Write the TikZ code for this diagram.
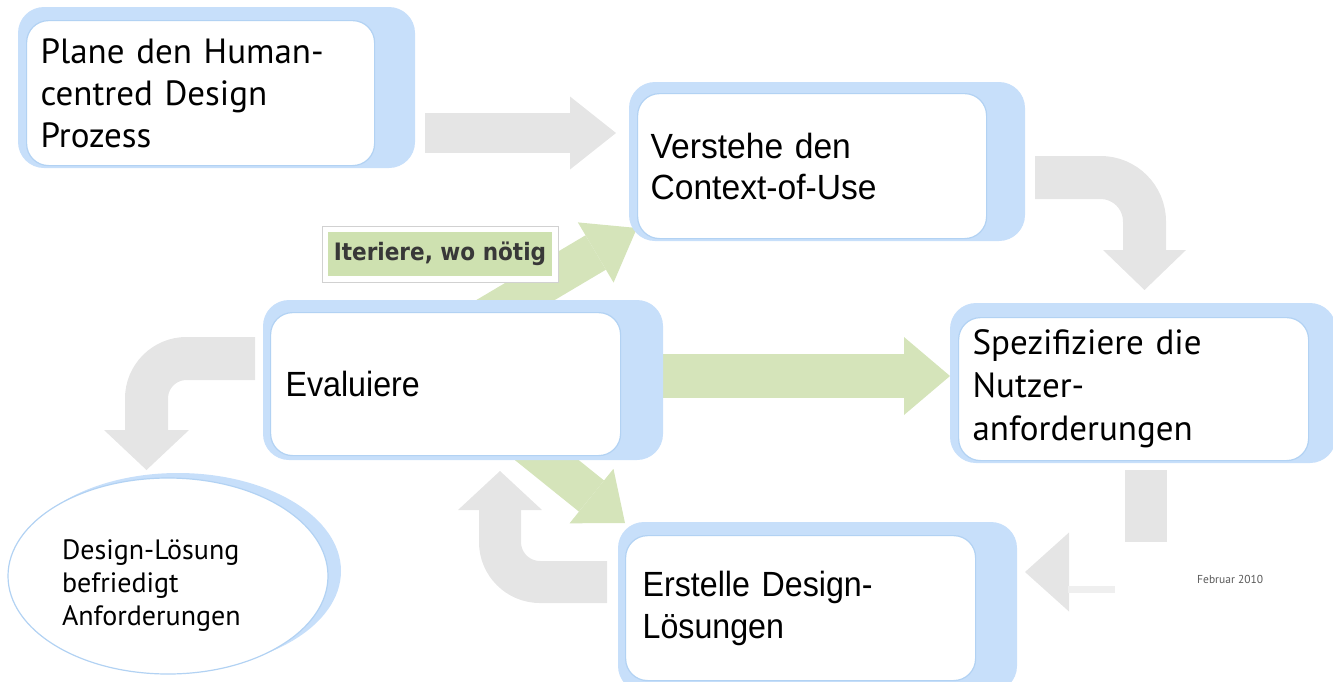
\documentclass[tikz,border=0pt]{standalone}
\usepackage{fontspec}
\setmainfont{PT Sans}
\newfontfamily\narrowA[FakeStretch=0.96]{Liberation Sans}
\newfontfamily\narrowB[FakeStretch=0.92]{Liberation Sans}
\newfontfamily\labelfont{DejaVu Sans Condensed}
\usetikzlibrary{arrows.meta,shapes.geometric}
\definecolor{shadowblue}{RGB}{199,223,250}
\definecolor{edgeblue}{RGB}{178,210,243}
\definecolor{arrowgray}{RGB}{229,229,229}
\definecolor{arrowgreen}{RGB}{213,228,186}
\definecolor{labelgreen}{RGB}{206,225,176}
\begin{document}
\begin{tikzpicture}[x=1pt,y=-1pt,
  shadowbox/.style={fill=shadowblue, rounded corners=26pt},
  wbox/.style={draw=edgeblue, line width=1.2pt, fill=white, rounded corners=22pt,
    inner ysep=0pt, align=left, anchor=north west},
  bigtext/.style={font=\fontsize{35}{42}\selectfont},
  graybar/.style={draw=arrowgray, line width=#1},
  greenbar/.style={draw=arrowgreen, line width=#1},
  bigtip/.style 2 args={-{Triangle[length=#1,width=#2,line width=0pt]}}
]
\useasboundingbox (0,0) rectangle (1333,681);

% ---------- connector end points ----------
\coordinate (a12s) at (425,133);   \coordinate (a12e) at (616,133);
\coordinate (a23s) at (1035,177.5); \coordinate (a23e) at (1144.5,290);
\coordinate (a35s) at (1146,470);  \coordinate (a35m) at (1146,542);
\coordinate (a35b) at (1069,572);  \coordinate (a35e) at (1025,572);
\coordinate (a54s) at (607,582);   \coordinate (a54e) at (500,471);
\coordinate (a4gs) at (255,358.5); \coordinate (a4ge) at (146.5,470);
\coordinate (g43s) at (660,376);   \coordinate (g43e) at (950,376);
\coordinate (g42s) at (465,330);   \coordinate (g42e) at (637,228);
\coordinate (g45s) at (497,420);   \coordinate (g45e) at (625,523);

% ---------- green iteration arrows ----------
\draw[greenbar=44pt, bigtip={46pt}{78pt}] (g43s) -- (g43e);
\draw[greenbar=40pt, bigtip={48pt}{70pt}] (g42s) -- (g42e);
\draw[greenbar=40pt, bigtip={43pt}{70pt}] (g45s) -- (g45e);

% ---------- gray process arrows ----------
\draw[graybar=40pt, bigtip={46pt}{73pt}] (a12s) -- (a12e);
\draw[graybar=43pt, rounded corners=44pt, bigtip={40pt}{83pt}] (a23s) -| (a23e);
\draw[graybar=42pt] (a35s) -- (a35m);
\draw[graybar=2pt, bigtip={44pt}{79pt}] (a35b) -- (a35e);
\fill[arrowgray!60] (1068,586) rectangle (1115,593);
\draw[graybar=42pt, rounded corners=40pt, bigtip={39pt}{84pt}] (a54s) -| (a54e);
\draw[graybar=43pt, rounded corners=40pt, bigtip={40pt}{85pt}] (a4gs) -| (a4ge);

% ---------- boxes ----------
\fill[shadowbox] (18,7) rectangle (415,168);
\node[wbox, bigtext, minimum width=348pt, minimum height=145pt, text width=320pt, inner xsep=14pt]
  (plan) at (26,20) {Plane den Human-\\centred Design\\Prozess};

\fill[shadowbox] (629,82) rectangle (1025,241);
\node[wbox, font=\narrowA\fontsize{35}{41}\selectfont, minimum width=349pt, minimum height=145pt, text width=323pt, inner xsep=13pt]
  (ctx) at (637,93) {Verstehe den\\Context-of-Use};

\fill[shadowbox] (950,303) rectangle (1336,463);
\node[wbox, font=\fontsize{35}{43}\selectfont, minimum width=350pt, minimum height=143pt, text width=322pt, inner xsep=14pt]
  (req) at (958,317) {Spezifiziere die\\Nutzer-\\anforderungen};

\fill[shadowbox] (263,300) rectangle (663,460);
\node[wbox, font=\narrowB\fontsize{35}{41}\selectfont, minimum width=350pt, minimum height=143pt, text width=320pt, inner xsep=15pt]
  (eval) at (270,312) {Evaluiere};

\fill[shadowbox] (618,522) rectangle (1017,692);
\node[wbox, font=\narrowB\fontsize{35}{42}\selectfont, minimum width=350pt, minimum height=145pt, text width=316pt, inner xsep=17pt]
  (design) at (625,535) {Erstelle Design-\\Lösungen};

% ---------- goal ellipse ----------
\fill[shadowblue] (178,571) ellipse [x radius=163, y radius=98];
\node[ellipse, draw=edgeblue, line width=1.2pt, fill=white, minimum width=320pt, minimum height=196pt, inner sep=0pt]
  (goal) at (168,576) {};
\node[align=left, text width=212pt, inner sep=0pt, font=\fontsize{28}{33}\selectfont]
  (goaltext) at (168,586) {Design-Lösung\\befriedigt\\Anforderungen};

% ---------- iteration label ----------
\filldraw[fill=white, draw=black!18, line width=0.8pt] (322,226) rectangle (558,282);
\node[fill=labelgreen, minimum width=224pt, minimum height=44pt, inner sep=0pt,
  font=\labelfont\bfseries\fontsize{24}{30}\selectfont, text=black!78]
  (iter) at (440,254) {Iteriere, wo nötig};

% ---------- date ----------
\node[anchor=base west, inner sep=0pt, font=\fontsize{11.5}{14}\selectfont, text=black!65]
  (date) at (1197,583) {Februar 2010};
\end{tikzpicture}
\end{document}
